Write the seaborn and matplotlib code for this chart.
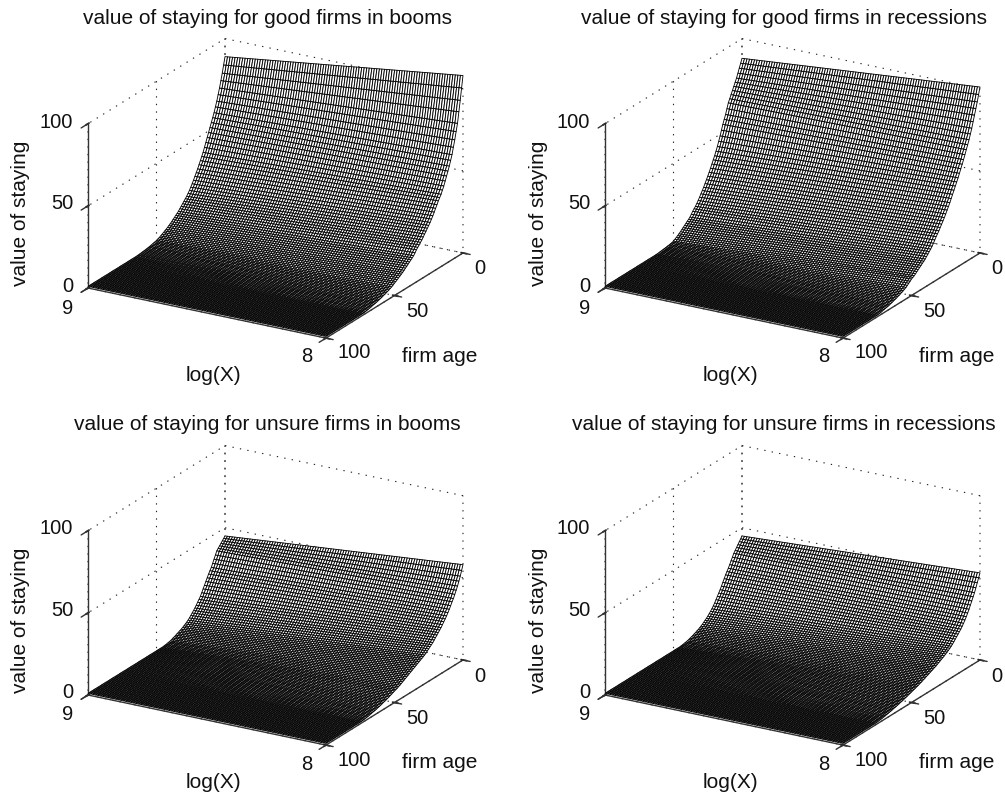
import numpy as np
import matplotlib
matplotlib.use('Agg')
import matplotlib.pyplot as plt
import seaborn as sns
from mpl_toolkits.mplot3d import proj3d

# each list is read off the picture, one value per firm age 0..100,
# along the two silhouette edges of the surface
good_boom_x9 = [89,84.5,80,76,72,68.5,65,62,59,56.5,
    54,51.5,49,46.5,44,41.5,39,37,35,33,
    31,29.2,27.5,25.7,24,22.5,21,19.7,18.5,17.5,
    16.5,15.5,14.5,13.5,12.5,11.7,11,10.2,9.5,8.7,
    8,7.4,6.8,6.2,5.7,5.2,4.7,4.2,3.8,3.4,
    3,2.8,2.6,2.4,2.2,2,1.9,1.7,1.6,1.5,
    1.4,1.3,1.2,1.1,1.1,1,1,1,1,1,
    1,1,1,1,1,1,1,1,1,1,
    1,1,1,1,1,1,1,1,1,1,
    1,1,1,1,1,1,1,1,1,1,
    1]
good_boom_x8 = [108,101,94,87.5,81,76.5,72,68,64,61,
    58,55.5,53,50.5,48,46,44,42.5,41,39.2,
    37.5,35.7,34,32.5,31,29.7,28.5,27.2,26,24.7,
    23.5,22.5,21.5,20.5,19.5,18.2,17,16.2,15.5,14.7,
    14,13.2,12.5,11.7,11,10.4,9.8,9.2,8.6,8,
    7.5,6.9,6.3,5.9,5.5,5.1,4.8,4.4,4.1,3.8,
    3.5,3.2,3,2.7,2.5,2.3,2.1,1.9,1.7,1.5,
    1.4,1.2,1.1,1,1,1,1,1,1,1,
    1,1,1,1,1,1,1,1,1,1,
    1,1,1,1,1,1,1,1,1,1,
    1]
good_rec_x9 = [88,85.5,83,80.5,78,76,74,72,70,68,
    66,63,60,57.5,55,52,49,46.3,43.6,41.3,
    39,37,35,33,31,29.2,27.5,25.7,24,22.5,
    21,19.5,18,16.7,15.5,14.5,13.5,12.2,11,10.2,
    9.5,8.7,8,7.2,6.5,5.7,5,4.4,3.8,3.2,
    2.6,2.4,2.2,2,1.9,1.7,1.6,1.5,1.4,1.3,
    1.2,1.1,1,1,1,1,1,1,1,1,
    1,1,1,1,1,1,1,1,1,1,
    1,1,1,1,1,1,1,1,1,1,
    1,1,1,1,1,1,1,1,1,1,
    1]
good_rec_x8 = [101,97,93,89.5,86,82.5,79,76,73,70.5,
    68,65.5,63,60.7,58.5,56.2,54,52,50,48,
    46,44,42,40.2,38.5,36.7,35,33.5,32,30.5,
    29,27.7,26.5,25,23.5,22.2,21,20,19,18,
    17,16.2,15.5,14.7,14,13.2,12.5,11.7,11,10.5,
    10,9.2,8.5,7.7,7,6.5,6,5.6,5.2,4.8,
    4.5,4.1,3.8,3.5,3.2,2.9,2.6,2.4,2.2,2,
    1.8,1.6,1.4,1.2,1.1,1,1,1,1,1,
    1,1,1,1,1,1,1,1,1,1,
    1,1,1,1,1,1,1,1,1,1,
    1]
unsure_boom_x9 = [45,44,43,42,41,40,39,37,35,33,
    31,29.5,28,26.2,24.5,22.7,21,19.2,17.5,16.2,
    15,13.7,12.5,11.5,10.5,9.5,8.5,7.7,7,6.4,
    5.8,5.3,4.8,4.4,4,3.6,3.2,2.8,2.5,2.1,
    1.8,1.6,1.5,1.3,1.2,1.1,1,1,1,1,
    1,1,1,1,1,1,1,1,1,1,
    1,1,1,1,1,1,1,1,1,1,
    1,1,1,1,1,1,1,1,1,1,
    1,1,1,1,1,1,1,1,1,1,
    1,1,1,1,1,1,1,1,1,1,
    1]
unsure_boom_x8 = [58,55,52,49.5,47,45,43,41,39.5,37.7,
    36,34.5,33,31.7,30.5,29.2,28,27,26,25,
    24,23,22,21.2,20.5,19.7,19,18.2,17.5,17,
    16.5,16,15.5,15,14.5,14,13.5,13,12.5,12,
    11.5,11,10.5,10,9.5,9,8.5,8.1,7.7,7.3,
    7,6.6,6.2,5.8,5.5,5.1,4.8,4.5,4.2,3.9,
    3.6,3.3,3.1,2.8,2.6,2.4,2.2,2,1.8,1.6,
    1.5,1.3,1.2,1.1,1,1,1,1,1,1,
    1,1,1,1,1,1,1,1,1,1,
    1,1,1,1,1,1,1,1,1,1,
    1]
unsure_rec_x9 = [45,43.7,42.5,41.2,40,38.7,37.5,35.7,34,32.2,
    30.5,29,27.5,25.7,24,22.2,20.5,19,17.5,16,
    14.5,13.2,12,11,10,9.1,8.3,7.6,6.9,6.2,
    5.6,5.1,4.6,4.2,3.8,3.4,3,2.7,2.4,2.1,
    1.8,1.6,1.5,1.3,1.2,1.1,1,1,1,1,
    1,1,1,1,1,1,1,1,1,1,
    1,1,1,1,1,1,1,1,1,1,
    1,1,1,1,1,1,1,1,1,1,
    1,1,1,1,1,1,1,1,1,1,
    1,1,1,1,1,1,1,1,1,1,
    1]
unsure_rec_x8 = [53,50.5,48,45.5,43,41,39,37,35,33.2,
    31.5,30,28.5,27.2,26,25,24,23,22,21,
    20,19.2,18.5,17.8,17.2,16.6,16,15.5,15,14.5,
    14,13.5,13,12.6,12.2,11.8,11.4,11,10.6,10.2,
    9.8,9.4,9,8.6,8.3,7.9,7.6,7.3,7,6.7,
    6.4,6.1,5.8,5.5,5.2,4.9,4.7,4.4,4.2,3.9,
    3.7,3.4,3.2,3,2.8,2.6,2.4,2.2,2,1.8,
    1.7,1.5,1.4,1.3,1.2,1.1,1,1,1,1,
    1,1,1,1,1,1,1,1,1,1,
    1,1,1,1,1,1,1,1,1,1,
    1]

titles = ['value of staying for good firms in booms',
          'value of staying for good firms in recessions',
          'value of staying for unsure firms in booms',
          'value of staying for unsure firms in recessions']
edges = [(good_boom_x9, good_boom_x8), (good_rec_x9, good_rec_x8),
         (unsure_boom_x9, unsure_boom_x8), (unsure_rec_x9, unsure_rec_x8)]
x_ticks = [9, 8]
age_ticks = [0, 50, 100]
z_ticks = [0, 50, 100]

FONT = 15
TICK_FONT = 14.5
W, H = 1005, 799
AXIS_COLOR = '#333333'

# where matlab put the tick labels, in pixels of the top left panel
X_LABEL_PX = [(68, 308), (307, 357)]
AGE_LABEL_PX = [(480, 269), (417, 312), (354, 353)]
Z_LABEL_PX = [(73, 286), (73, 204), (73, 122)]

sns.set_theme(style='white', font='Liberation Sans', rc={
    'grid.color': '#222222', 'grid.linestyle': (0, (1.2, 5.6)), 'grid.linewidth': 0.8,
    'axes3d.grid': True, 'text.color': '#111111',
})

def place_axes(fig, ax, corner_a, corner_b):
    """Scale and shift the square 3D axes so the front floor edge lands on the given pixels."""
    def project(x, age):
        px, py, _ = proj3d.proj_transform(x, age, 0, ax.get_proj())
        return ax.transData.transform((px, py))
    size = 400.0
    ax.set_position([0.2, 0.2, size / W, size / H])
    ax.apply_aspect()
    a, b = project(9, 100), project(8, 100)
    size *= np.hypot(corner_b[0] - corner_a[0], corner_b[1] - corner_a[1]) / np.hypot(*(b - a))
    ax.set_position([0.2, 0.2, size / W, size / H])
    ax.apply_aspect()
    a = project(9, 100)
    left = 0.2 * W + corner_a[0] - a[0]
    bottom = 0.2 * H + (H - corner_a[1]) - a[1]
    ax.set_position([left / W, bottom / H, size / W, size / H])

def draw_panel(fig, idx, x_off, y_off):
    ax = fig.add_subplot(2, 2, idx + 1, projection='3d', computed_zorder=False)
    ax.patch.set_alpha(0)
    ax.set_proj_type('ortho')
    ax.view_init(elev=21.2, azim=120.2)
    ax.set_box_aspect((275, 272, 176))
    ax.set_xlim(8, 9, view_margin=0)
    ax.set_ylim(0, 100, view_margin=0)
    ax.set_zlim(0, 100, view_margin=0)

    x9, x8 = edges[idx]
    x9, x8 = np.array(x9), np.array(x8)
    log_x = np.linspace(8, 9, 95)
    firm_age = np.arange(len(x9))
    X, Y = np.meshgrid(log_x, firm_age)
    # only the two edges were readable, the columns between them run straight across
    weight = (log_x - 8)[None, :]
    Z = x8[:, None] * (1 - weight) + x9[:, None] * weight
    ax.plot_surface(X, Y, Z, rstride=1, cstride=1, color='white', edgecolor='black',
                    linewidth=0.62, shade=False, antialiased=True)

    ax.set_xticks(x_ticks)
    ax.set_yticks(age_ticks)
    ax.set_zticks(z_ticks)
    ax.set_xticklabels([])
    ax.set_yticklabels([])
    ax.set_zticklabels([])
    for axis in (ax.xaxis, ax.yaxis, ax.zaxis):
        axis.set_pane_color((1, 1, 1, 0))
        axis.pane.set_edgecolor((1, 1, 1, 0))
        axis.line.set_color(AXIS_COLOR)
        axis.line.set_linewidth(1.0)
    ax.zaxis.set_ticks_position('upper')

    # short outward ticks, the 3D axis does not draw them under this style
    for val in x_ticks:
        ax.plot([val, val], [100, 105], [0, 0], color=AXIS_COLOR, lw=1.0)
    for val in age_ticks:
        ax.plot([8, 7.97], [val, val], [0, 0], color=AXIS_COLOR, lw=1.0)
    for val in z_ticks:
        ax.plot([9, 9], [100, 105], [val, val], color=AXIS_COLOR, lw=1.0)

    place_axes(fig, ax, (88 + x_off, 288 + y_off), (326 + x_off, 338 + y_off))

    def put(px, py, text, **kw):
        fig.text((px + x_off) / W, 1 - (py + y_off) / H, text, va='center', **kw)

    for val, (px, py) in zip(x_ticks, X_LABEL_PX):
        put(px, py, str(val), ha='center', fontsize=TICK_FONT)
    for val, (px, py) in zip(age_ticks, AGE_LABEL_PX):
        put(px, py, str(val), ha='center', fontsize=TICK_FONT)
    for val, (px, py) in zip(z_ticks, Z_LABEL_PX):
        put(px, py, str(val), ha='right', fontsize=TICK_FONT)

    put(267, 18, titles[idx], ha='center', fontsize=FONT)
    put(213, 375, 'log(X)', ha='center', fontsize=FONT)
    put(440, 356, 'firm age', ha='center', fontsize=FONT)
    put(21, 213, 'value of staying', rotation=90, ha='center', fontsize=FONT)

fig = plt.figure(figsize=(W / 100, H / 100), dpi=100)
offsets = [(0, 0), (517, 0), (0, 407), (517, 407)]
for i, (dx, dy) in enumerate(offsets):
    draw_panel(fig, i, dx, dy)
fig.savefig('out.png', dpi=100)
